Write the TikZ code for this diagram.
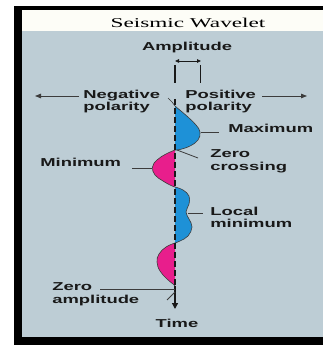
\documentclass[tikz,border=0pt]{standalone}
\usepackage{fontspec}
\newfontfamily\lblfont{Liberation Sans}
\newfontfamily\ttlfont{Liberation Serif}
\usetikzlibrary{arrows.meta}
\definecolor{panel}{RGB}{189,205,213}
\definecolor{band}{RGB}{253,253,247}
\definecolor{posblue}{RGB}{30,145,215}
\definecolor{negpink}{RGB}{232,30,140}
\definecolor{ink}{RGB}{25,25,25}
\begin{document}
\begin{tikzpicture}[x=1pt,y=-1pt,
  lbl/.style={font=\lblfont\bfseries\fontsize{11.5}{12.5}\selectfont, text=ink, inner sep=0pt, align=left, xscale=1.6, transform shape},
  leader/.style={draw=ink!85, line width=0.8pt},
  polarr/.style={leader, -{Triangle[length=6pt,width=4.5pt]}},
  lobe/.style={draw=ink!85, line width=0.6pt},
  axisdash/.style={draw=ink, line width=1.4pt, dash pattern=on 6pt off 3pt},
  ampmark/.style={draw=ink, line width=1.3pt},
]
\useasboundingbox (0,0) rectangle (323,347);
\fill[white] (0,0) rectangle (323,347);
% frame
\fill[black] (14,6) rectangle (323,345);
\fill[panel] (22,10) rectangle (323,337);
\fill[band] (22,10) rectangle (323,31);
\node[font=\ttlfont\fontsize{13.5}{14}\selectfont, anchor=base, inner sep=0pt, xscale=1.72, transform shape] (title) at (188,28) {Seismic Wavelet};

% amplitude
\node[lbl, anchor=base] (amp) at (187,51) {Amplitude};
\coordinate (ampL) at (175,61);
\coordinate (ampR) at (201,61);
\draw[draw=ink, line width=0.8pt, {Triangle[length=4pt,width=3.5pt]}-{Triangle[length=4pt,width=3.5pt]}] (ampL) -- (ampR);
\coordinate (mL1) at (175,65); \coordinate (mL2) at (175,83);
\coordinate (mR1) at (200.5,65); \coordinate (mR2) at (200.5,83);
\draw[ampmark] (mL1) -- (mL2);
\draw[ampmark] (mR1) -- (mR2);

% polarity labels (anchor = baseline of last line)
\node[lbl, anchor=base west] (neg) at (83,111) {Negative\\polarity};
\node[lbl, anchor=base west] (pos) at (185,111) {Positive\\polarity};
\coordinate (negA) at (79,96); \coordinate (negB) at (35,96);
\coordinate (posA) at (262,96); \coordinate (posB) at (307,96);
\draw[polarr] (negA) -- (negB);
\draw[polarr] (posA) -- (posB);

% wavelet lobes
\fill[posblue] plot[smooth, tension=0.7] coordinates {(175,106) (181,111) (189,118) (196,125) (200,132) (198,140) (190,146) (180,149.5) (175,150)} -- cycle;
\draw[lobe] plot[smooth, tension=0.7] coordinates {(168,98) (172,102) (175,106) (181,111) (189,118) (196,125) (200,132) (198,140) (190,146) (180,149.5) (175,150)};

\fill[negpink] plot[smooth, tension=0.7] coordinates {(175,150) (166,154) (157,160) (152.5,167) (155,175) (163,181) (171,185.5) (175,187)} -- cycle;
\draw[lobe] plot[smooth, tension=0.7] coordinates {(175,150) (166,154) (157,160) (152.5,167) (155,175) (163,181) (171,185.5) (175,187)};

\fill[posblue] plot[smooth, tension=0.7] coordinates {(175,187) (183,190) (189,196) (189,204) (186,212) (189,219) (192,227) (188,236) (180,241) (175,243)} -- cycle;
\draw[lobe] plot[smooth, tension=0.7] coordinates {(175,187) (183,190) (189,196) (189,204) (186,212) (189,219) (192,227) (188,236) (180,241) (175,243)};

\fill[negpink] plot[smooth, tension=0.7] coordinates {(175,243) (166,247) (159,254) (157,262) (160,271) (167,279) (173,284) (175,286)} -- cycle;
\draw[lobe] plot[smooth, tension=0.7] coordinates {(175,243) (166,247) (159,254) (157,262) (160,271) (167,279) (173,284) (175,286)};

% time axis
\coordinate (axtop) at (175,99);
\coordinate (axmid) at (175,286);
\coordinate (axbot) at (175,309);
\draw[axisdash] (axtop) -- (axmid);
\draw[draw=ink, line width=1.3pt, -{Triangle[length=6pt,width=6pt]}] (axmid) -- (axbot);
\coordinate (tk1) at (175,292); \coordinate (tk2) at (167,300);
\draw[leader] (tk1) -- (tk2);

% labels with leaders
\node[lbl, anchor=base west] (max) at (228,133) {Maximum};
\coordinate (maxP) at (201,132); \coordinate (maxQ) at (219,132);
\draw[leader] (maxP) -- (maxQ);

\node[lbl, anchor=base west] (zc) at (210,170.5) {Zero\\crossing};
\coordinate (zcP) at (177,150); \coordinate (zcQ) at (198,158);
\draw[leader] (zcP) -- (zcQ);

\node[lbl, anchor=base west] (min) at (40,167) {Minimum};
\coordinate (minP) at (132,168); \coordinate (minQ) at (152,168);
\draw[leader] (minP) -- (minQ);

\node[lbl, anchor=base west] (lm) at (210,227.5) {Local\\minimum};
\coordinate (lmP) at (188,213); \coordinate (lmQ) at (203,213);
\draw[leader] (lmP) -- (lmQ);

\node[lbl, anchor=base west] (za) at (52,303) {Zero\\amplitude};
\coordinate (zaP) at (100,289); \coordinate (zaQ) at (175,289);
\draw[leader] (zaP) -- (zaQ);

\node[lbl, anchor=base] (time) at (177,327) {Time};
\end{tikzpicture}
\end{document}
